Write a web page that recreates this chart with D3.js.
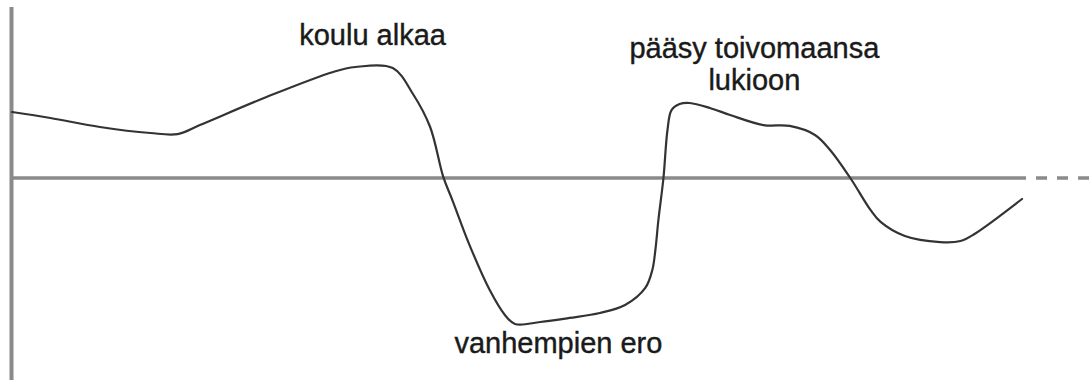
<!DOCTYPE html>
<html lang="fi">
<head>
    <meta charset="UTF-8">
    <title>Elämänkaari</title>
    <script src="https://d3js.org/d3.v7.min.js"></script>
    <style>
        html, body {
            margin: 0;
            padding: 0;
            background: #ffffff;
        }
        svg text {
            font-family: 'Liberation Sans', Arial, sans-serif;
            font-size: 29px;
            fill: #1a1a1a;
            stroke: #1a1a1a;
            stroke-width: 0.4px;
        }
    </style>
</head>
<body>
    <svg id="chart" width="1089" height="380"></svg>
    <script>
        // curve: time (0..100) vs. mood (-10..10)
        const times = [0, 3.8, 8.7, 13.7, 16.4, 18.6, 25.2, 31.8, 34.0, 37.7, 39.7, 41.4, 42.7, 43.6,
            45.3, 47.3, 48.8, 49.8, 52.3, 55.2, 58.2, 60.7, 62.7, 63.4, 63.7, 64.0, 64.5, 64.9,
            65.3, 66.1, 67.1, 69.1, 71.1, 74.4, 77.0, 79.5, 81.0, 83.0, 85.0, 86.0, 88.4, 91.9,
            93.9, 95.3, 100];
        const moods = [4.4, 4.0, 3.4, 3.0, 2.93, 3.53, 5.4, 7.07, 7.4, 7.33, 5.6, 3.4, 0.07, -1.47,
            -4.47, -7.47, -9.13, -9.73, -9.6, -9.33, -9.0, -8.47, -7.33, -6.13, -4.8, -2.8, 0, 3.2,
            4.53, 4.93, 5.0, 4.67, 4.2, 3.53, 3.47, 2.87, 1.87, 0, -2.13, -2.93, -3.87, -4.27,
            -4.2, -3.73, -1.4];

        // annotations
        const labelTexts = [['koulu alkaa'], ['pääsy toivomaansa', 'lukioon'], ['vanhempien ero']];
        const labelTimes = [35.7, 73.5, 54.1];
        const labelMoods = [8.87, 8.03, -11.67];

        const svg = d3.select('#chart');
        const width = +svg.attr('width');

        const x = d3.scaleLinear().domain([0, 100]).range([12, 1022]);
        const y = d3.scaleLinear().domain([-10, 10]).range([328, 28]);

        const axisColor = '#8a8a8a';

        // vertical axis
        svg.append('line')
            .attr('x1', 11.5).attr('x2', 11.5)
            .attr('y1', 7).attr('y2', 380)
            .attr('stroke', axisColor)
            .attr('stroke-width', 4);

        // horizontal axis, solid part then dashed continuation
        svg.append('line')
            .attr('x1', 10).attr('x2', x(100.4))
            .attr('y1', y(0)).attr('y2', y(0))
            .attr('stroke', axisColor)
            .attr('stroke-width', 3.5);

        svg.append('line')
            .attr('x1', x(100.4) + 10).attr('x2', width)
            .attr('y1', y(0)).attr('y2', y(0))
            .attr('stroke', axisColor)
            .attr('stroke-width', 3.5)
            .attr('stroke-dasharray', '11 10');

        const points = times.map((t, i) => [t, moods[i]]);

        const line = d3.line()
            .x(d => x(d[0]))
            .y(d => y(d[1]))
            .curve(d3.curveCatmullRom.alpha(0.5));

        svg.append('path')
            .datum(points)
            .attr('d', line)
            .attr('fill', 'none')
            .attr('stroke', '#333333')
            .attr('stroke-width', 2.2)
            .attr('stroke-linejoin', 'round')
            .attr('stroke-linecap', 'round');

        // two-line labels need a bit more room than one em
        labelTexts.forEach((lines, i) => {
            const t = svg.append('text')
                .attr('text-anchor', 'middle')
                .attr('x', x(labelTimes[i]))
                .attr('y', y(labelMoods[i]));
            lines.forEach((s, j) => {
                t.append('tspan')
                    .attr('x', x(labelTimes[i]))
                    .attr('dy', j === 0 ? 0 : 32.5)
                    .text(s);
            });
        });
    </script>
</body>
</html>
